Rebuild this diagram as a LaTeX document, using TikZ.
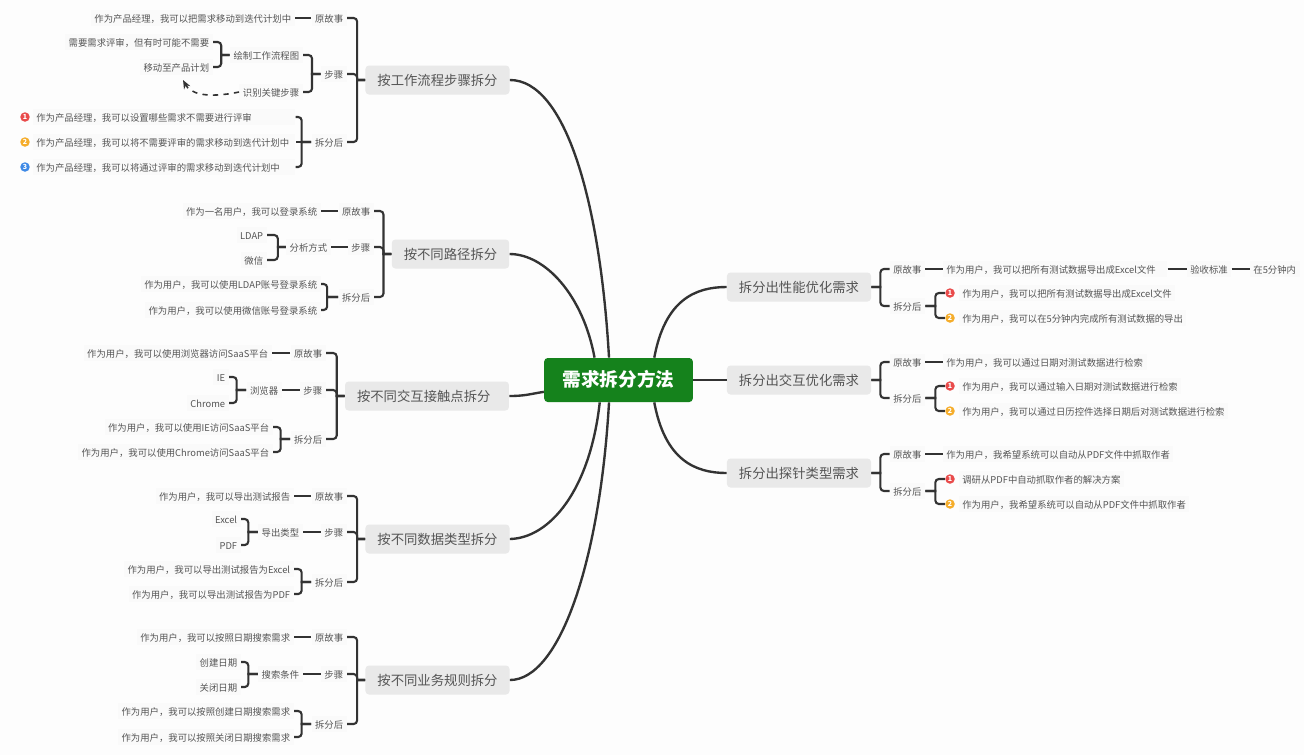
\documentclass[tikz,border=0pt]{standalone}
\usepackage{fontspec}
\setmainfont{Noto Sans CJK SC}
\usetikzlibrary{arrows.meta, positioning}
\definecolor{pagebg}{HTML}{FDFDFD}
\definecolor{leafbg}{HTML}{FAFAFA}
\definecolor{topicbg}{HTML}{E9E9E9}
\definecolor{rootbg}{HTML}{15821C}
\definecolor{inkdark}{HTML}{333333}
\definecolor{inktext}{HTML}{555555}
\definecolor{badgered}{HTML}{E94B4B}
\definecolor{badgeorange}{HTML}{F5AD2B}
\definecolor{badgeblue}{HTML}{3F8AE6}

\begin{document}
\begin{tikzpicture}[
    x=0.02cm, y=-0.02cm,
    every node/.style={font=\fontsize{5.33}{6.4}\selectfont, text=inktext, inner xsep=2pt, inner ysep=1.5pt, text height=5.4pt, text depth=0.5pt},
    leaf/.style={rectangle, fill=leafbg, anchor=east},
    rleaf/.style={rectangle, fill=leafbg, anchor=west},
    itemleaf/.style={rleaf, text width=5.11cm, align=left},
    topic/.style={rectangle, fill=topicbg, rounded corners=2pt, inner xsep=6.8pt, minimum height=0.58cm, font=\fontsize{7.6}{9}\selectfont, text height=6.9pt, text depth=1pt},
    rootnode/.style={rectangle, fill=rootbg, rounded corners=2pt, inner xsep=10.5pt, minimum height=0.88cm, font=\fontsize{10.6}{12}\selectfont\bfseries, text=white, text height=9pt, text depth=1.3pt},
    badge/.style={circle, fill=#1, inner sep=0pt, minimum size=0.19cm, text=white, font=\fontsize{4}{4.5}\selectfont\bfseries, text height=2.9pt, text depth=0pt},
    stem/.style={draw=inkdark, line width=1.35pt},
    twig/.style={draw=inkdark, line width=1.2pt},
    dashlink/.style={draw=inkdark, line width=0.9pt, dashed, -{Stealth[length=5pt,width=4pt]}}
]
    \fill[pagebg] (0,0) rectangle (1304,755);
    \useasboundingbox (0,0) rectangle (1304,755);

    \node[rootnode] (root) at (618.5,380) {需求拆分方法};

    \node[topic] (flow) at (437.5,80) {按工作流程步骤拆分};
    \node[leaf] (flowold) at (347,18) {原故事};
    \node[leaf] (flowstory) at (295,18) {作为产品经理，我可以把需求移动到迭代计划中};
    \node[leaf] (flowstep) at (347,74) {步骤};
    \node[leaf] (flowdraw) at (303,55) {绘制工作流程图};
    \node[leaf] (flowreview) at (213,42) {需要需求评审，但有时可能不需要};
    \node[leaf] (flowplan) at (213,67) {移动至产品计划};
    \node[leaf] (flowkey) at (303,92) {识别关键步骤};
    \coordinate (flowdash) at (183,80);
    \node[leaf] (flowafter) at (347,142) {拆分后};
    \node[itemleaf] (flowa) at (32.5,117) {作为产品经理，我可以设置哪些需求不需要进行评审};
    \node[itemleaf] (flowb) at (32.5,142) {作为产品经理，我可以将不需要评审的需求移动到迭代计划中};
    \node[itemleaf] (flowc) at (32.5,167) {作为产品经理，我可以将通过评审的需求移动到迭代计划中};
    \node[badge=badgered] (flowba) at (25,117) {1};
    \node[badge=badgeorange] (flowbb) at (25,142) {2};
    \node[badge=badgeblue] (flowbc) at (25,167) {3};

    \node[topic] (route) at (450.5,254) {按不同路径拆分};
    \node[leaf] (routeold) at (374,211) {原故事};
    \node[leaf] (routestory) at (321,211) {作为一名用户，我可以登录系统};
    \node[leaf] (routestep) at (374,247) {步骤};
    \node[leaf] (routeway) at (331,247) {分析方式};
    \node[leaf] (routeldap) at (267,235) {LDAP};
    \node[leaf] (routewx) at (267,260) {微信};
    \node[leaf] (routeafter) at (374,297) {拆分后};
    \node[leaf] (routea) at (321,284) {作为用户，我可以使用LDAP账号登录系统};
    \node[leaf] (routeb) at (321,310) {作为用户，我可以使用微信账号登录系统};

    \node[topic, text width=2.8cm, align=left] (touch) at (427,396) {按不同交互接触点拆分};
    \node[leaf] (touchold) at (326,353) {原故事};
    \node[leaf] (touchstory) at (272,353) {作为用户，我可以使用浏览器访问SaaS平台};
    \node[leaf] (touchstep) at (326,390) {步骤};
    \node[leaf] (touchweb) at (282,390) {浏览器};
    \node[leaf] (touchie) at (229,377) {IE};
    \node[leaf] (touchcr) at (229,403) {Chrome};
    \node[leaf] (touchafter) at (326,439) {拆分后};
    \node[leaf] (toucha) at (273,427) {作为用户，我可以使用IE访问SaaS平台};
    \node[leaf] (touchb) at (273,452) {作为用户，我可以使用Chrome访问SaaS平台};

    \node[topic] (data) at (437.5,539) {按不同数据类型拆分};
    \node[leaf] (dataold) at (347,496) {原故事};
    \node[leaf] (datastory) at (294,496) {作为用户，我可以导出测试报告};
    \node[leaf] (datastep) at (347,532) {步骤};
    \node[leaf] (datakind) at (303,532) {导出类型};
    \node[leaf] (dataxls) at (241,519) {Excel};
    \node[leaf] (datapdf) at (241,545) {PDF};
    \node[leaf] (dataafter) at (347,582) {拆分后};
    \node[leaf] (dataa) at (294,569) {作为用户，我可以导出测试报告为Excel};
    \node[leaf] (datab) at (294,594) {作为用户，我可以导出测试报告为PDF};

    \node[topic] (rule) at (437.5,680) {按不同业务规则拆分};
    \node[leaf] (ruleold) at (347,637) {原故事};
    \node[leaf] (rulestory) at (294,637) {作为用户，我可以按照日期搜索需求};
    \node[leaf] (rulestep) at (347,674) {步骤};
    \node[leaf] (rulecond) at (303,674) {搜索条件};
    \node[leaf] (rulenew) at (241,662) {创建日期};
    \node[leaf] (ruleend) at (241,687) {关闭日期};
    \node[leaf] (ruleafter) at (347,724) {拆分后};
    \node[leaf] (rulea) at (294,711) {作为用户，我可以按照创建日期搜索需求};
    \node[leaf] (ruleb) at (294,737) {作为用户，我可以按照关闭日期搜索需求};

    \node[topic] (perf) at (799,287) {拆分出性能优化需求};
    \node[rleaf] (perfold) at (889.5,269) {原故事};
    \node[rleaf, text width=4.35cm, align=left] (perfstory) at (942.5,269) {作为用户，我可以把所有测试数据导出成Excel文件};
    \node[rleaf] (perfcheck) at (1186.5,269) {验收标准};
    \node[rleaf] (perftime) at (1249.5,269) {在5分钟内};
    \node[rleaf] (perfafter) at (889.5,306) {拆分后};
    \node[badge=badgered] (perfba) at (950,293) {1};
    \node[badge=badgeorange] (perfbb) at (950,318) {2};
    \node[rleaf] (perfa) at (958.5,293) {作为用户，我可以把所有测试数据导出成Excel文件};
    \node[rleaf] (perfb) at (958.5,318) {作为用户，我可以在5分钟内完成所有测试数据的导出};

    \node[topic] (ux) at (799,380) {拆分出交互优化需求};
    \node[rleaf] (uxold) at (889.5,362) {原故事};
    \node[rleaf] (uxstory) at (942.5,362) {作为用户，我可以通过日期对测试数据进行检索};
    \node[rleaf] (uxafter) at (889.5,398) {拆分后};
    \node[badge=badgered] (uxba) at (950,386) {1};
    \node[badge=badgeorange] (uxbb) at (950,411) {2};
    \node[rleaf] (uxa) at (958.5,386) {作为用户，我可以通过输入日期对测试数据进行检索};
    \node[rleaf] (uxb) at (958.5,411) {作为用户，我可以通过日历控件选择日期后对测试数据进行检索};

    \node[topic] (spike) at (799,473) {拆分出探针类型需求};
    \node[rleaf] (spikeold) at (889.5,454) {原故事};
    \node[rleaf] (spikestory) at (942.5,454) {作为用户，我希望系统可以自动从PDF文件中抓取作者};
    \node[rleaf] (spikeafter) at (889.5,491) {拆分后};
    \node[badge=badgered] (spikeba) at (950,479) {1};
    \node[badge=badgeorange] (spikebb) at (950,504) {2};
    \node[rleaf] (spikea) at (958.5,479) {调研从PDF中自动抓取作者的解决方案};
    \node[rleaf] (spikeb) at (958.5,504) {作为用户，我希望系统可以自动从PDF文件中抓取作者};

    \draw[stem] (flow.east) .. controls (565,80) and (600,200) .. (root.113);
    \draw[stem] (route.east) .. controls (545,254) and (583,295) .. (root.137);
    \draw[stem] (touch.east) .. controls (525,396) and (530,394) .. (root.189);
    \draw[stem] (data.east) .. controls (550,538) and (590,490) .. (root.230);
    \draw[stem] (rule.east) .. controls (560,680) and (600,560) .. (root.247);
    \draw[stem] (perf.west) .. controls (695,287) and (665,300) .. (root.32);
    \draw[stem] (ux.west) -- (root.east);
    \draw[stem] (spike.west) .. controls (695,473) and (665,460) .. (root.-32);

    \draw[twig] (flow.west) -- ++(-8,0) [rounded corners=2pt] |- (flowold.east);
    \draw[twig] (flow.west) -- ++(-8,0) [rounded corners=2pt] |- (flowstep.east);
    \draw[twig] (flow.west) -- ++(-8,0) [rounded corners=2pt] |- (flowafter.east);
    \draw[twig] (flowold) -- (flowstory);
    \draw[twig] (flowstep.west) -- ++(-8.5,0) [rounded corners=2pt] |- (flowdraw.east);
    \draw[twig] (flowstep.west) -- ++(-8.5,0) [rounded corners=2pt] |- (flowkey.east);
    \draw[twig] (flowdraw.west) -- ++(-8.5,0) [rounded corners=2pt] |- (flowreview.east);
    \draw[twig] (flowdraw.west) -- ++(-8.5,0) [rounded corners=2pt] |- (flowplan.east);
    \draw[dashlink] (flowkey.west) .. controls (205,99) and (190,93) .. (flowdash);
    \draw[twig] (flowafter.west) -- ++(-9.5,0) [rounded corners=2pt] |- (flowa.east);
    \draw[twig] (flowafter.west) -- (flowb.east);
    \draw[twig] (flowafter.west) -- ++(-9.5,0) [rounded corners=2pt] |- (flowc.east);

    \draw[twig] (route.west) -- ++(-8,0) [rounded corners=2pt] |- (routeold.east);
    \draw[twig] (route.west) -- ++(-8,0) [rounded corners=2pt] |- (routestep.east);
    \draw[twig] (route.west) -- ++(-8,0) [rounded corners=2pt] |- (routeafter.east);
    \draw[twig] (routeold) -- (routestory);
    \draw[twig] (routestep) -- (routeway);
    \draw[twig] (routeway.west) -- ++(-8,0) [rounded corners=2pt] |- (routeldap.east);
    \draw[twig] (routeway.west) -- ++(-8,0) [rounded corners=2pt] |- (routewx.east);
    \draw[twig] (routeafter.west) -- ++(-11,0) [rounded corners=2pt] |- (routea.east);
    \draw[twig] (routeafter.west) -- ++(-11,0) [rounded corners=2pt] |- (routeb.east);

    \draw[twig] (touch.west) -- ++(-8,0) [rounded corners=2pt] |- (touchold.east);
    \draw[twig] (touch.west) -- ++(-8,0) [rounded corners=2pt] |- (touchstep.east);
    \draw[twig] (touch.west) -- ++(-8,0) [rounded corners=2pt] |- (touchafter.east);
    \draw[twig] (touchold) -- (touchstory);
    \draw[twig] (touchstep) -- (touchweb);
    \draw[twig] (touchweb.west) -- ++(-9.5,0) [rounded corners=2pt] |- (touchie.east);
    \draw[twig] (touchweb.west) -- ++(-9.5,0) [rounded corners=2pt] |- (touchcr.east);
    \draw[twig] (touchafter.west) -- ++(-9.5,0) [rounded corners=2pt] |- (toucha.east);
    \draw[twig] (touchafter.west) -- ++(-9.5,0) [rounded corners=2pt] |- (touchb.east);

    \draw[twig] (data.west) -- ++(-8,0) [rounded corners=2pt] |- (dataold.east);
    \draw[twig] (data.west) -- ++(-8,0) [rounded corners=2pt] |- (datastep.east);
    \draw[twig] (data.west) -- ++(-8,0) [rounded corners=2pt] |- (dataafter.east);
    \draw[twig] (dataold) -- (datastory);
    \draw[twig] (datastep) -- (datakind);
    \draw[twig] (datakind.west) -- ++(-9.5,0) [rounded corners=2pt] |- (dataxls.east);
    \draw[twig] (datakind.west) -- ++(-9.5,0) [rounded corners=2pt] |- (datapdf.east);
    \draw[twig] (dataafter.west) -- ++(-9.5,0) [rounded corners=2pt] |- (dataa.east);
    \draw[twig] (dataafter.west) -- ++(-9.5,0) [rounded corners=2pt] |- (datab.east);

    \draw[twig] (rule.west) -- ++(-8,0) [rounded corners=2pt] |- (ruleold.east);
    \draw[twig] (rule.west) -- ++(-8,0) [rounded corners=2pt] |- (rulestep.east);
    \draw[twig] (rule.west) -- ++(-8,0) [rounded corners=2pt] |- (ruleafter.east);
    \draw[twig] (ruleold) -- (rulestory);
    \draw[twig] (rulestep) -- (rulecond);
    \draw[twig] (rulecond.west) -- ++(-9.5,0) [rounded corners=2pt] |- (rulenew.east);
    \draw[twig] (rulecond.west) -- ++(-9.5,0) [rounded corners=2pt] |- (ruleend.east);
    \draw[twig] (ruleafter.west) -- ++(-9.5,0) [rounded corners=2pt] |- (rulea.east);
    \draw[twig] (ruleafter.west) -- ++(-9.5,0) [rounded corners=2pt] |- (ruleb.east);

    \draw[twig] (perf.east) -- ++(9,0) [rounded corners=2pt] |- (perfold.west);
    \draw[twig] (perf.east) -- ++(9,0) [rounded corners=2pt] |- (perfafter.west);
    \draw[twig] (perfold) -- (perfstory);
    \draw[twig] (perfstory) -- (perfcheck);
    \draw[twig] (perfcheck) -- (perftime);
    \draw[twig] (perfafter.east) -- ++(10,0) [rounded corners=2pt] |- (perfba.west);
    \draw[twig] (perfafter.east) -- ++(10,0) [rounded corners=2pt] |- (perfbb.west);

    \draw[twig] (ux.east) -- ++(9,0) [rounded corners=2pt] |- (uxold.west);
    \draw[twig] (ux.east) -- ++(9,0) [rounded corners=2pt] |- (uxafter.west);
    \draw[twig] (uxold) -- (uxstory);
    \draw[twig] (uxafter.east) -- ++(10,0) [rounded corners=2pt] |- (uxba.west);
    \draw[twig] (uxafter.east) -- ++(10,0) [rounded corners=2pt] |- (uxbb.west);

    \draw[twig] (spike.east) -- ++(9,0) [rounded corners=2pt] |- (spikeold.west);
    \draw[twig] (spike.east) -- ++(9,0) [rounded corners=2pt] |- (spikeafter.west);
    \draw[twig] (spikeold) -- (spikestory);
    \draw[twig] (spikeafter.east) -- ++(10,0) [rounded corners=2pt] |- (spikeba.west);
    \draw[twig] (spikeafter.east) -- ++(10,0) [rounded corners=2pt] |- (spikebb.west);
\end{tikzpicture}
\end{document}
